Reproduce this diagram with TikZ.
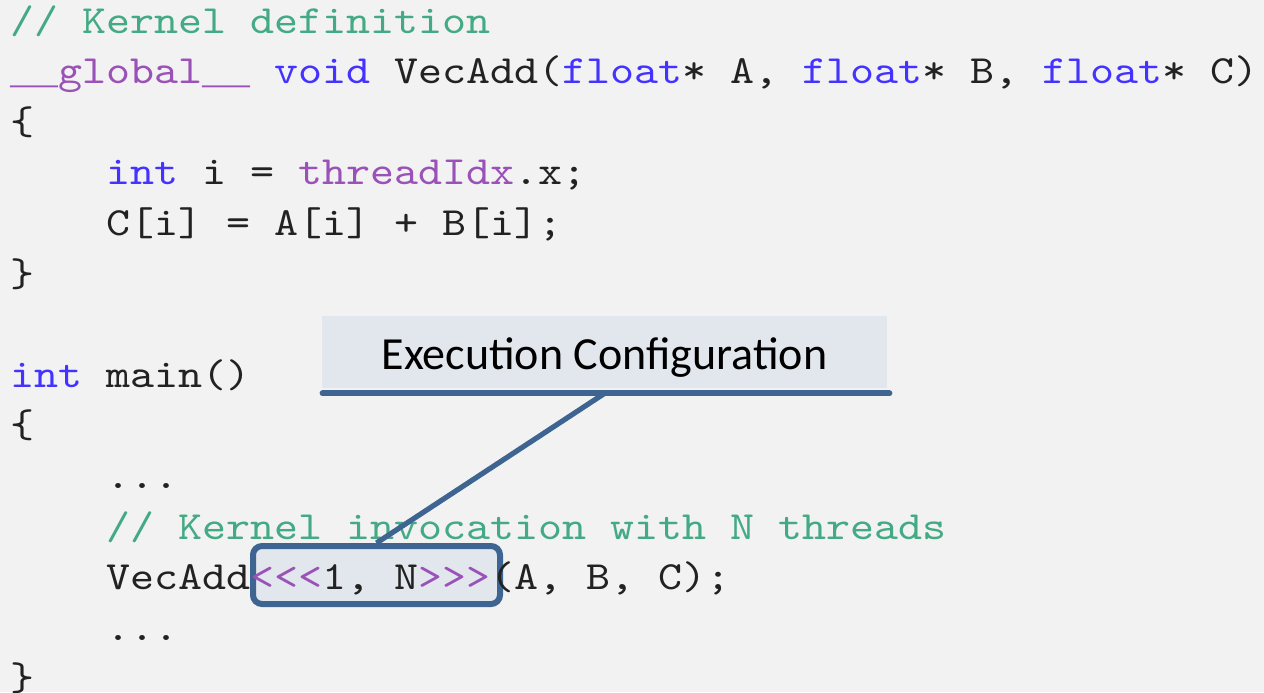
\documentclass[tikz,border=0pt]{standalone}
\usepackage{fontspec}
\setmonofont[FakeStretch=1.143]{lmmono10-regular.otf}
\newfontfamily\undsfont{Liberation Mono}
\newfontfamily\calloutfont{Carlito}
\usetikzlibrary{positioning}

\definecolor{bggray}{HTML}{F2F2F2}
\definecolor{codeblack}{HTML}{222222}
\definecolor{cmtgreen}{HTML}{44AA86}
\definecolor{kwblue}{HTML}{4433FF}
\definecolor{cudapurple}{HTML}{9A52B8}
\definecolor{boxfill}{HTML}{E2E6ED}
\definecolor{boxblue}{HTML}{3E6491}

\newcommand{\kwd}[1]{\textcolor{kwblue}{#1}}
\newcommand{\bltn}[1]{\textcolor{cudapurple}{#1}}
% full-width underscores
\newcommand{\uu}{{\undsfont\_\_}}

\begin{document}
\begin{tikzpicture}[x=0.5pt, y=-0.5pt,
    code/.style={anchor=base west, inner sep=0pt, font=\ttfamily\fontsize{20}{24}\selectfont, text=codeblack},
    comment/.style={code, text=cmtgreen},
    callout/.style={fill=boxfill, inner xsep=0pt, inner ysep=0pt, font=\calloutfont\fontsize{23}{28}\selectfont},
    launchbox/.style={draw=boxblue, line width=3pt, fill=boxfill, rounded corners=4.5pt, minimum width=123.5pt, minimum height=29pt, inner sep=0pt},
    calloutline/.style={draw=boxblue, line width=3pt, line cap=round}
]

% page
\useasboundingbox (0,0) rectangle (1264,692);
\fill[bggray] (0,0) rectangle (1264,692);

% box round the launch configuration (under the code)
\node[launchbox] (launch) at (376.5,575) {};

% kernel
\node[comment] (kdefcmt) at (10,33) {// Kernel definition};
\node[code] (kernelsig) at (10,83.6) {\bltn{\uu global\uu} \kwd{void} VecAdd(\kwd{float}* A, \kwd{float}* B, \kwd{float}* C)};
\node[code] (kopen) at (10,134.2) {\{};
\node[code] (tidline) at (106,184.8) {\kwd{int} i = \bltn{threadIdx}.x;};
\node[code] (addline) at (106,235.4) {C[i] = A[i] + B[i];};
\node[code] (kclose) at (10,286) {\}};

% host code
\node[code] (mainsig) at (10,387.2) {\kwd{int} main()};
\node[code] (mopen) at (10,437.8) {\{};
\node[code] (dotsa) at (106,488.4) {...};
\node[comment] (invcmt) at (106,539) {// Kernel invocation with N threads};
\node[code] (launchline) at (106,589.6) {VecAdd\bltn{<{}<{}<}1, N\bltn{>{}>{}>}(A, B, C);};
\node[code] (dotsb) at (106,640.2) {...};
\node[code] (mclose) at (10,690.8) {\}};

% callout
\node[callout, anchor=base, text height=26.5pt, text depth=9.5pt, minimum width=282.5pt] (cfg) at (604.5,369) {Execution Configuration};
\coordinate (cfgbar) at ([yshift=-2.5pt]cfg.south);
\draw[calloutline] ([xshift=0.5pt,yshift=-2.5pt]cfg.south west) -- ([xshift=1pt,yshift=-2.5pt]cfg.south east);
\draw[calloutline, line width=2.6pt, line cap=butt] (cfgbar) -- (launch.north);

\end{tikzpicture}
\end{document}
